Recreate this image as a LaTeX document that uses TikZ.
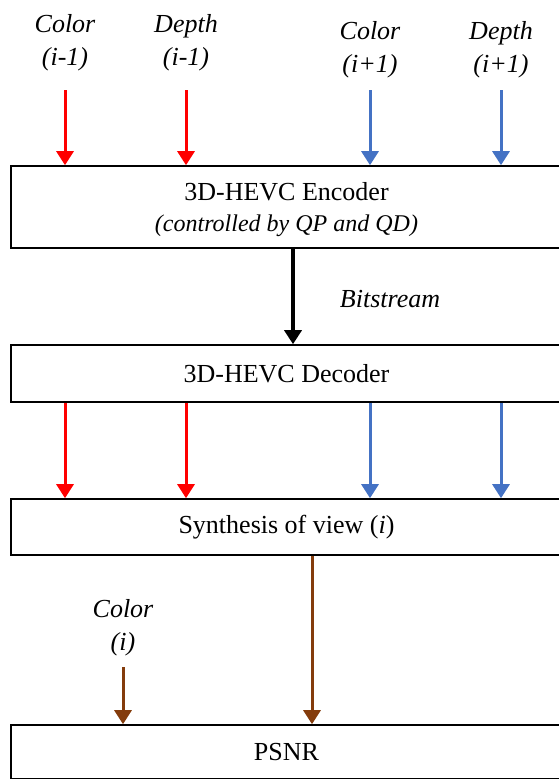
\documentclass[tikz,border=0pt]{standalone}
\usepackage{fontspec}
\setmainfont{Liberation Serif}
\usetikzlibrary{arrows.meta}
\usetikzlibrary{positioning}

\definecolor{prevred}{RGB}{255,0,0}
\definecolor{nextblue}{RGB}{68,114,196}
\definecolor{refbrown}{RGB}{132,60,12}

\begin{document}
\begin{tikzpicture}[x=1pt,y=-1pt,
        box/.style={rectangle,draw,line width=1.6pt,minimum width=551pt,inner sep=0pt,align=center,font=\fontsize{26}{32}\selectfont},
        lbl/.style={align=center,inner sep=0pt,font=\fontsize{26}{33}\selectfont\itshape},
        flow/.style={line width=3pt,-{Triangle[length=14pt,width=17pt]}}]
        \useasboundingbox (0,0) rectangle (558,779);

        \node at (286.5,207) [box,minimum height=82pt] (encoder) {\rule{0pt}{24pt}3D-HEVC Encoder\\[-1pt]{\fontsize{24}{28}\selectfont\itshape (controlled by QP and QD)}};
        \node at (286.5,373.5) [box,minimum height=57pt] (decoder) {3D-HEVC Decoder};
        \node at (286.5,527) [box,minimum height=56pt] (synthesis) {Synthesis of view (\textit{i})};
        \node at (286.5,752) [box,minimum height=54pt] (psnr) {PSNR};

        \node at (65,43) [lbl] (colorPrev) {Color\\(i-1)};
        \node at (186,43) [lbl] (depthPrev) {Depth\\(i-1)};
        \node at (370,50) [lbl] (colorNext) {Color\\(i+1)};
        \node at (501,50) [lbl] (depthNext) {Depth\\(i+1)};
        \node at (123,628) [lbl] (colorRef) {Color\\(i)};
        \node at (390,299) [lbl] (bitstream) {Bitstream};

        \coordinate (inputs) at (0,90);
        \coordinate (bitline) at (293,0);
        \coordinate (synline) at (312,0);

        % views into the encoder
        \draw[flow,prevred]  (colorPrev |- inputs) -- (colorPrev |- encoder.north);
        \draw[flow,prevred]  (depthPrev |- inputs) -- (depthPrev |- encoder.north);
        \draw[flow,nextblue] (colorNext |- inputs) -- (colorNext |- encoder.north);
        \draw[flow,nextblue] (depthNext |- inputs) -- (depthNext |- encoder.north);

        \draw[flow,black,line width=4pt] (bitline |- encoder.south) -- (bitline |- decoder.north);

        % decoded views into the synthesis
        \draw[flow,prevred]  (colorPrev |- decoder.south) -- (colorPrev |- synthesis.north);
        \draw[flow,prevred]  (depthPrev |- decoder.south) -- (depthPrev |- synthesis.north);
        \draw[flow,nextblue] (colorNext |- decoder.south) -- (colorNext |- synthesis.north);
        \draw[flow,nextblue] (depthNext |- decoder.south) -- (depthNext |- synthesis.north);

        \draw[flow,refbrown] (synline |- synthesis.south) -- (synline |- psnr.north);
        \draw[flow,refbrown] ([yshift=-11pt]colorRef.south) -- (colorRef |- psnr.north);
    \end{tikzpicture}
\end{document}
